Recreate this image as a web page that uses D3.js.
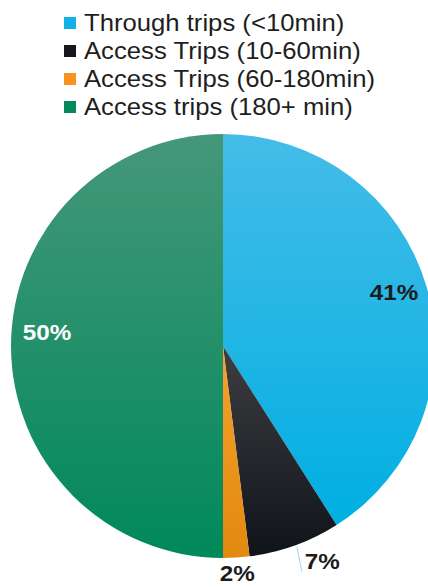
<!DOCTYPE html>
<html>
<head>
<meta charset="utf-8">
<script src="https://cdn.jsdelivr.net/npm/d3@7"></script>
<style>
  html, body { margin: 0; padding: 0; background: #fff; }
  svg { display: block; }
  text { font-family: "Liberation Sans", Arial, sans-serif; }
</style>
</head>
<body>
<svg id="chart" width="428" height="587"></svg>
<script>
// Trip categories and their share of all trips (percent)
const categories = [
  "Through trips (<10min)",
  "Access Trips (10-60min)",
  "Access Trips (60-180min)",
  "Access trips (180+ min)"
];
const shares = [41, 7, 2, 50];

// Slice colours: light (top) and deep (bottom) stops of each gradient
const topColors = ["#45bce8", "#3d3e40", "#f5a22c", "#45977a"];
const bottomColors = ["#00afe2", "#0f131a", "#e2890f", "#00895a"];
const legendColors = ["#10b2e6", "#15181e", "#f7931e", "#05895c"];

const W = 428, H = 587;
const cx = 223, cy = 346, R = 212;

const svg = d3.select("#chart");
const defs = svg.append("defs");

categories.forEach((c, i) => {
  const g = defs.append("linearGradient")
    .attr("id", "grad" + i)
    .attr("x1", 0).attr("y1", 0).attr("x2", 0).attr("y2", 1);
  g.append("stop").attr("offset", "0%").attr("stop-color", topColors[i]);
  g.append("stop").attr("offset", "100%").attr("stop-color", bottomColors[i]);
});

const data = categories.map((c, i) => ({ name: c, value: shares[i], i }));

const pie = d3.pie().value(d => d.value).sort(null);
const arcs = pie(data);
const arc = d3.arc().innerRadius(0).outerRadius(R);

const pieG = svg.append("g").attr("transform", `translate(${cx},${cy})`);

pieG.selectAll("path.slice")
  .data(arcs)
  .join("path")
  .attr("class", "slice")
  .attr("d", arc)
  .attr("fill", d => `url(#grad${d.data.i})`);

// Data labels: inside labels for the large slices, outside ones for the thin slices
const labelStyle = [
  { r: 178, dx: 0, dy: -4, fill: "#1b1b1b", leader: false },
  { r: 240, dx: 18, dy: -10, fill: "#1b1b1b", leader: true },
  { r: 228, dx: 0, dy: 0, fill: "#1b1b1b", leader: false },
  { r: 176, dx: 0, dy: -14, fill: "#ffffff", leader: false }
];

arcs.forEach(a => {
  const s = labelStyle[a.data.i];
  const mid = (a.startAngle + a.endAngle) / 2;
  const x = s.r * Math.sin(mid) + s.dx;
  const y = -s.r * Math.cos(mid) + s.dy;
  if (s.leader) {
    const ex = R * Math.sin(mid), ey = -R * Math.cos(mid);
    pieG.append("path")
      .attr("d", `M${ex + 2},${ey + 1}L${ex + 7},${ey + 26}`)
      .attr("stroke", "#9fd6ef")
      .attr("stroke-width", 1)
      .attr("fill", "none");
  }
  pieG.append("text")
    .attr("transform", `translate(${x},${y}) scale(1.1,1)`)
    .attr("text-anchor", "middle")
    .attr("dominant-baseline", "central")
    .attr("font-size", 22)
    .attr("font-weight", "bold")
    .attr("fill", s.fill)
    .text(d3.format(".0f")(a.data.value) + "%");
});

// Legend
const legendY = d3.scaleBand().domain(categories).range([9, 121]);
const legend = svg.append("g");
const rows = legend.selectAll("g.row")
  .data(data)
  .join("g")
  .attr("class", "row")
  .attr("transform", d => `translate(64,${legendY(d.name) + legendY.bandwidth() / 2})`);

rows.append("rect")
  .attr("x", 0).attr("y", -6)
  .attr("width", 12).attr("height", 12)
  .attr("fill", d => legendColors[d.i]);

rows.append("text")
  .attr("transform", "translate(20,8) scale(1.07,1)")
  .attr("font-size", 24)
  .attr("fill", "#1e1e1e")
  .text(d => d.name);
</script>
</body>
</html>
